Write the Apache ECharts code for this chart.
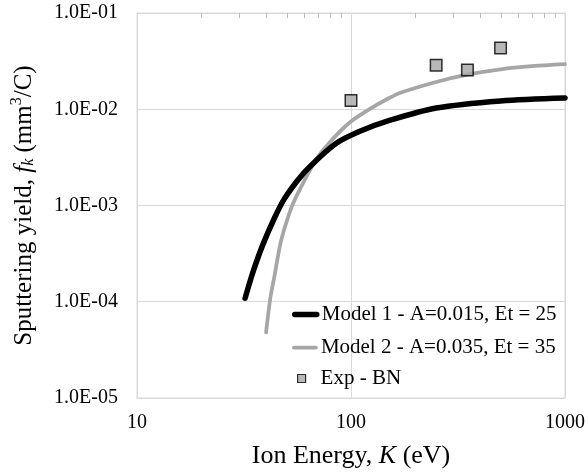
<!DOCTYPE html>
<html>
<head>
<meta charset="utf-8">
<script src="https://cdn.jsdelivr.net/npm/echarts@6/dist/echarts.min.js"></script>
<style>
  html, body { margin: 0; padding: 0; background: #ffffff; }
  #chart { width: 588px; height: 474px; }
</style>
</head>
<body>
<div id="chart"></div>
<script>
// Ion energy K (eV) and sputtering yield f_k (mm^3/C)
const model1Name = 'Model 1 - A=0.015, Et = 25';
const model1Energy = [32, 35, 38.7, 44, 48.8, 56, 63.8, 85, 110, 150, 250, 500, 1000];
const model1Yield = [1.09e-4, 2.1e-4, 3.9e-4, 7.5e-4, 1.17e-3, 1.8e-3, 2.5e-3, 4.4e-3, 5.9e-3, 7.6e-3, 1.03e-2, 1.22e-2, 1.31e-2];

const model2Name = 'Model 2 - A=0.035, Et = 35';
const model2Energy = [40.1, 42, 43.8, 47, 51.5, 55.3, 68.5, 80, 98, 121, 150, 173, 250, 354, 500, 700, 1000];
const model2Yield = [4.8e-5, 1.1e-4, 1.8e-4, 4.2e-4, 8.3e-4, 1.22e-3, 2.97e-3, 4.6e-3, 7.2e-3, 9.9e-3, 1.3e-2, 1.5e-2, 1.92e-2, 2.3e-2, 2.6e-2, 2.8e-2, 2.94e-2];

const expName = 'Exp - BN';
const expEnergy = [100, 250, 350, 500];
const expYield = [0.0123, 0.0287, 0.0255, 0.0434];

// Axis tick labels and the minor ticks along the top edge
const xTickLabels = ['10', '100', '1000'];
const yTickLabels = ['1.0E-05', '1.0E-04', '1.0E-03', '1.0E-02', '1.0E-01'];
const topMinorTicks = [20, 30, 40, 50, 60, 70, 80, 90, 200, 300, 400, 500, 600, 700, 800, 900];
const topEdge = 1e-1;

const zip = (xs, ys) => xs.map((x, i) => [x, ys[i]]);
const FONT = "'Liberation Serif', 'Times New Roman', serif";
const TEXT = '#000000';
const GRID = '#d9d9d9';

const chart = echarts.init(document.getElementById('chart'), null, { renderer: 'canvas' });

const legendText = { fontFamily: FONT, fontSize: 21, color: TEXT, lineHeight: 21 };

chart.setOption({
  animation: false,
  backgroundColor: '#ffffff',
  textStyle: { fontFamily: FONT },
  grid: {
    left: 137, right: 21, top: 13, bottom: 76,
    show: true, borderColor: GRID, borderWidth: 1, backgroundColor: 'transparent'
  },
  xAxis: {
    type: 'log', logBase: 10, min: 10, max: 1000,
    name: '{n|Ion Energy, }{i|K}{n| (eV)}',
    nameLocation: 'middle', nameGap: 45,
    nameTextStyle: {
      fontFamily: FONT, fontSize: 26, color: TEXT, verticalAlign: 'top',
      rich: {
        n: { fontFamily: FONT, fontSize: 26, color: TEXT },
        i: { fontFamily: FONT, fontSize: 26, color: TEXT, fontStyle: 'italic' }
      }
    },
    axisLine: { show: true, lineStyle: { color: GRID } },
    axisTick: { show: false },
    minorTick: { show: false },
    axisLabel: {
      fontFamily: FONT, fontSize: 20, color: TEXT, margin: 15,
      formatter: v => xTickLabels[Math.round(Math.log10(v)) - 1]
    },
    splitLine: { show: true, lineStyle: { color: GRID, width: 1 } }
  },
  yAxis: {
    type: 'log', logBase: 10, min: 1e-5, max: 1e-1,
    name: '{n|Sputtering yield, }{i|f}{sub|k}{n| (mm}{sup|3}{n|/C)}',
    nameLocation: 'middle', nameGap: 98, nameRotate: 90,
    nameTextStyle: {
      fontFamily: FONT, fontSize: 25, color: TEXT,
      rich: {
        n: { fontFamily: FONT, fontSize: 25, color: TEXT, verticalAlign: 'middle', lineHeight: 28 },
        i: { fontFamily: FONT, fontSize: 25, color: TEXT, fontStyle: 'italic', verticalAlign: 'middle', lineHeight: 28 },
        sub: { fontFamily: FONT, fontSize: 16, color: TEXT, fontStyle: 'italic', verticalAlign: 'middle', padding: [10, 0, 0, 0] },
        sup: { fontFamily: FONT, fontSize: 16, color: TEXT, verticalAlign: 'middle', padding: [0, 0, 14, 0] }
      }
    },
    axisLine: { show: true, lineStyle: { color: GRID } },
    axisTick: { show: false },
    minorTick: { show: false },
    axisLabel: {
      fontFamily: FONT, fontSize: 20, color: TEXT, margin: 19,
      formatter: v => yTickLabels[Math.round(Math.log10(v)) + 5]
    },
    splitLine: { show: true, lineStyle: { color: GRID, width: 1 } }
  },
  legend: [
    {
      data: [model1Name], left: 292, top: 304, orient: 'vertical', padding: 0, selectedMode: false,
      itemWidth: 22, itemHeight: 14,
      lineStyle: { width: 5.5, cap: 'round' }, itemStyle: { opacity: 0 },
      textStyle: legendText
    },
    {
      data: [model2Name], left: 292, top: 337, orient: 'vertical', padding: 0, selectedMode: false,
      itemWidth: 22, itemHeight: 14,
      lineStyle: { width: 3.75, cap: 'round' }, itemStyle: { opacity: 0 },
      textStyle: legendText
    },
    {
      data: [expName], left: 297, top: 368, orient: 'vertical', padding: 0, selectedMode: false,
      itemWidth: 8, itemHeight: 8,
      itemStyle: { borderWidth: 1.2, borderColor: '#000000' },
      textStyle: Object.assign({}, legendText, { padding: [0, 0, 0, 10] })
    }
  ],
  series: [
    {
      name: model2Name, type: 'line', smooth: 0.3, symbol: 'none',
      data: zip(model2Energy, model2Yield),
      lineStyle: { color: '#a6a6a6', width: 3.75, cap: 'round' },
      itemStyle: { color: '#a6a6a6' }, z: 3
    },
    {
      name: model1Name, type: 'line', smooth: 0.3, symbol: 'none',
      data: zip(model1Energy, model1Yield),
      lineStyle: { color: '#000000', width: 5.5, cap: 'round' },
      itemStyle: { color: '#000000' }, z: 4
    },
    {
      name: expName, type: 'scatter', symbol: 'rect', symbolSize: 11.5,
      data: zip(expEnergy, expYield),
      itemStyle: { color: '#a6a6a6', borderColor: '#000000', borderWidth: 1.5 }, z: 5
    }
  ]
});

// Short inward ticks hanging from the top edge, placed through the axis scales
const tickMarks = topMinorTicks.map(k => {
  const p = chart.convertToPixel({ gridIndex: 0 }, [k, topEdge]);
  const x = Math.round(p[0]) + 0.5;
  return {
    type: 'line', silent: true, z: 10,
    shape: { x1: x, y1: p[1], x2: x, y2: p[1] + 5 },
    style: { stroke: '#bfbfbf', lineWidth: 1 }
  };
});
chart.setOption({ graphic: { elements: tickMarks } });
</script>
</body>
</html>
